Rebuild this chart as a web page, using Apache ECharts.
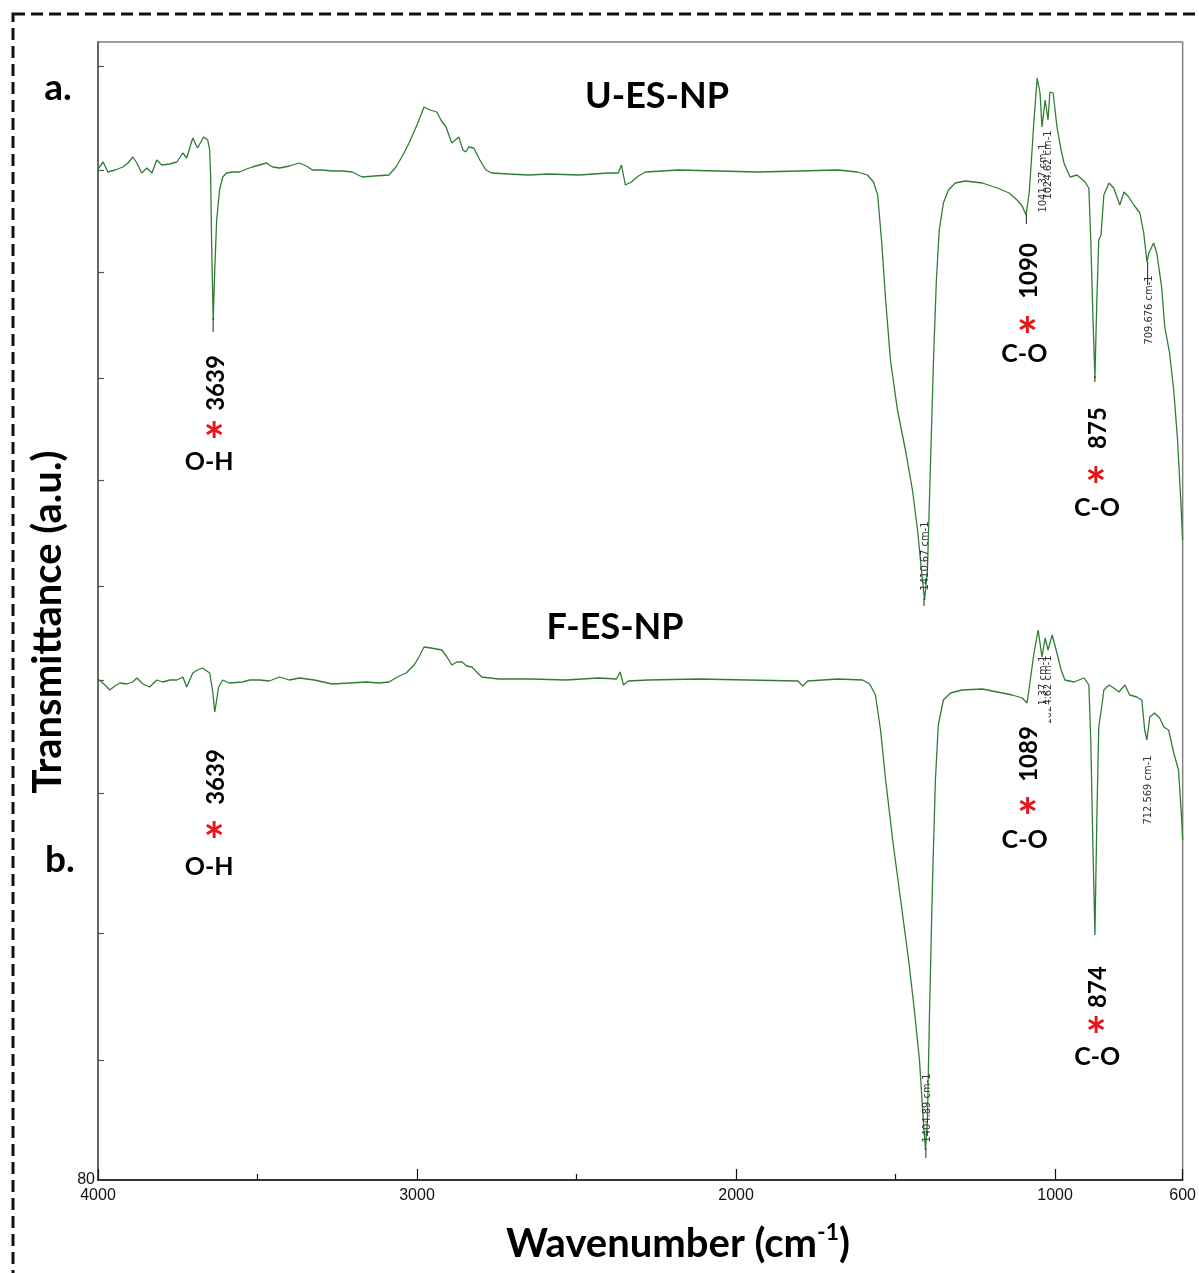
<!DOCTYPE html>
<html><head><meta charset="utf-8">
<script src="https://cdn.jsdelivr.net/npm/echarts@6/dist/echarts.min.js"></script>
<style>html,body{margin:0;padding:0;background:#fff;overflow:hidden}#c{width:1199px;height:1273px}</style>
</head><body><div id="c"></div>
<script>
// ---- Data ----
const wnA = [4000,3984,3969,3947,3922,3906,3891,3878,3863,3847,3831,3816,3800,3775,3753,3734,3722,3703,3688,3669,3656,3650,3647,3644,3639,3634,3628,3619,3609,3597,3578,3556,3534,3516,3494,3472,3453,3431,3400,3369,3347,3328,3297,3266,3234,3203,3172,3134,3088,3066,3044,3025,3000,2978,2959,2938,2925,2909,2891,2869,2856,2847,2838,2822,2803,2784,2766,2713,2650,2588,2494,2400,2369,2359,2347,2328,2306,2284,2181,2056,1931,1806,1681,1619,1588,1569,1556,1544,1531,1516,1494,1469,1447,1431,1419,1409,1400,1391,1381,1372,1363,1350,1334,1313,1281,1228,1181,1144,1119,1103,1091,1081,1072,1066,1056,1047,1041,1031,1022,1016,1006,994,981,972,953,931,906,894,888,881,875,869,863,856,847,831,816,806,797,784,769,753,734,722,712,706,691,681,666,656,641,628,616,606,600];
const tA = [101.1,101.8,100.8,101.0,101.3,101.7,102.3,101.7,100.7,101.2,100.7,102.0,101.5,101.6,101.8,102.7,102.2,104.2,103.2,104.3,104.0,103.0,100.5,94.0,86.0,91.0,96.0,99.0,100.3,100.7,100.8,100.8,101.1,101.3,101.5,101.7,101.3,101.2,101.4,101.7,101.4,101.0,101.0,100.9,100.9,100.8,100.3,100.4,100.5,101.3,102.5,103.7,105.5,107.3,107.0,106.8,106.0,105.3,103.7,104.3,103.0,102.8,103.3,103.2,102.0,101.0,100.7,100.6,100.5,100.6,100.5,100.7,100.7,101.5,99.5,99.8,100.4,100.8,101.0,100.9,100.8,100.9,101.0,100.8,100.5,99.8,98.5,94.0,88.0,82.0,77.0,73.0,69.0,65.0,61.0,58.0,61.0,71.0,82.0,90.0,95.0,97.7,99.0,99.7,99.9,99.7,99.2,98.7,98.0,97.4,96.5,98.7,103.0,106.0,110.2,108.7,105.3,108.0,106.0,108.8,108.7,105.3,103.0,101.7,100.3,100.5,99.8,99.2,94.0,86.0,80.2,88.0,94.0,94.5,98.5,99.7,99.2,98.3,97.5,98.8,98.3,97.5,96.7,94.7,91.8,92.7,93.7,92.7,89.3,85.3,82.7,79.0,74.0,68.0,64.0];

const wnB = [4000,3994,3978,3963,3947,3931,3909,3891,3878,3859,3838,3816,3797,3775,3753,3734,3722,3703,3688,3672,3650,3641,3634,3628,3622,3609,3588,3547,3525,3494,3463,3431,3400,3369,3322,3266,3213,3159,3119,3088,3056,3034,3009,2994,2978,2956,2922,2906,2891,2875,2859,2844,2828,2813,2797,2744,2641,2534,2431,2375,2363,2353,2338,2275,2119,1963,1806,1791,1775,1681,1603,1581,1563,1547,1531,1509,1484,1459,1441,1425,1413,1406,1400,1394,1384,1375,1366,1350,1328,1291,1228,1181,1134,1103,1088,1081,1066,1053,1041,1031,1022,1009,994,981,969,941,909,894,888,881,875,869,863,853,847,831,816,800,781,766,744,728,719,712,703,688,672,659,644,628,613,603,600];
const tB = [50.1,50.1,49.5,49.0,49.4,49.7,49.6,49.8,50.2,49.6,49.3,50.0,49.8,50.0,50.0,50.3,49.3,50.7,51.0,51.2,50.7,49.0,46.8,48.0,49.3,50.0,49.7,49.8,50.0,50.0,49.9,50.3,50.0,50.2,50.0,49.6,49.7,49.8,49.7,49.8,50.4,50.7,51.5,52.3,53.3,53.2,53.0,52.3,51.5,51.8,51.8,51.4,51.3,50.8,50.3,50.1,50.1,50.0,50.2,50.1,50.8,49.5,49.9,50.0,50.1,50.0,49.9,49.4,49.9,50.1,50.0,49.6,48.5,45.0,40.0,34.0,28.0,22.0,17.0,12.0,6.0,3.0,6.0,16.0,30.0,40.0,45.5,48.0,48.7,49.0,49.1,48.8,48.5,48.2,47.7,49.2,52.7,55.0,52.3,54.2,53.0,54.5,52.7,51.0,50.0,49.8,50.2,49.5,44.0,33.0,24.5,36.0,45.3,47.5,49.0,49.5,49.2,48.8,49.5,48.5,48.3,48.0,45.0,44.0,46.3,46.7,46.2,45.3,45.0,42.7,41.0,36.0,34.0];

const xTickLabels = [4000, 3000, 2000, 1000, 600];
const xMinorTicks = [3500, 2500, 1500];
const yTicks = [111.4, 101, 90.8, 80.2, 70, 59.4, 50, 38.7, 24.7, 12];

const sampleNames = ['U-ES-NP', 'F-ES-NP'];
const panelLetters = ['a.', 'b.'];
// big peak annotations: wavenumber, number text, group label
const bigPeaks = [
  {wn: 3639, num: '3639', grp: 'O-H', yNum: 383, yStar: 432, yGrp: 462, gdx: -4},
  {wn: 1090, num: '1090', grp: 'C-O', yNum: 271, yStar: 327, yGrp: 354, gdx: -2},
  {wn: 875,  num: '875',  grp: 'C-O', yNum: 428, yStar: 477, yGrp: 508, gdx: 2},
  {wn: 3639, num: '3639', grp: 'O-H', yNum: 777, yStar: 832, yGrp: 867, gdx: -4},
  {wn: 1089, num: '1089', grp: 'C-O', yNum: 754, yStar: 808, yGrp: 840, gdx: -2, box: true},
  {wn: 874,  num: '874',  grp: 'C-O', yNum: 987, yStar: 1027, yGrp: 1057, gdx: 2}
];
// small instrument peak labels
const smallPeaks = [
  {wn: 1410.67, text: '1410.67 cm-1', y: 556},
  {wn: 1041.37, text: '1041.37 cm-1', y: 178},
  {wn: 1024.62, text: '1024.62 cm-1', y: 165},
  {wn: 709.676, text: '709.676 cm-1', y: 310},
  {wn: 1041.37, text: '1041.37 cm-1', y: 690},
  {wn: 1024.62, text: '1024.62 cm-1', y: 690},
  {wn: 1404.89, text: '1404.89 cm-1', y: 1108},
  {wn: 712.569, text: '712.569 cm-1', y: 790}
];

const chart = echarts.init(document.getElementById('c'), null, {renderer: 'canvas', width: 1199, height: 1273});
const lineColor = '#2f7d34';
const tickFont = '"Liberation Sans", Arial, sans-serif';
const option = {
  animation: false,
  backgroundColor: '#ffffff',
  grid: {left: 98, right: 8, top: 42, bottom: 93, show: true, borderColor: '#808080', borderWidth: 1.5, backgroundColor: 'transparent'},
  xAxis: [{
    type: 'value', min: 600, max: 4000, inverse: true, position: 'bottom',
    axisLine: {show: true, onZero: false, lineStyle: {color: '#111', width: 1.5}},
    axisTick: {show: true, inside: true, length: 11, customValues: xTickLabels, lineStyle: {color: '#111', width: 1.2}},
    axisLabel: {customValues: xTickLabels, formatter: v => String(v), margin: 8, fontFamily: tickFont, fontSize: 16, color: '#111'},
    splitLine: {show: false}
  }, {
    type: 'value', min: 600, max: 4000, inverse: true, position: 'bottom', offset: 0,
    axisLine: {show: false, onZero: false},
    axisTick: {show: true, inside: true, length: 6, customValues: xMinorTicks, lineStyle: {color: '#111', width: 1.2}},
    axisLabel: {show: false},
    splitLine: {show: false}
  }],
  yAxis: {
    type: 'value', min: 0, max: 113.8,
    axisLine: {show: true, lineStyle: {color: '#666', width: 2}},
    axisTick: {show: true, inside: true, length: 6, customValues: yTicks, lineStyle: {color: '#555', width: 1.2}},
    axisLabel: {customValues: [0], formatter: () => '80', margin: 3, fontFamily: tickFont, fontSize: 16, color: '#111'},
    splitLine: {show: false}
  },
  series: [
    {name: sampleNames[0], type: 'line', xAxisIndex: 0, data: wnA.map((w, i) => [w, tA[i]]), showSymbol: false, silent: true, lineStyle: {color: lineColor, width: 1.3}, z: 3},
    {name: sampleNames[1], type: 'line', xAxisIndex: 0, data: wnB.map((w, i) => [w, tB[i]]), showSymbol: false, silent: true, lineStyle: {color: lineColor, width: 1.3}, z: 3}
  ]
};
chart.setOption(option);

const px = wn => chart.convertToPixel({xAxisIndex: 0}, wn);
const boldFont = 'Lato, "Open Sans", sans-serif';
function txt(x, y, text, size, opt) {
  opt = opt || {};
  return {
    type: 'text', x: x, y: y, rotation: opt.rot || 0, z: opt.z || 100, silent: true,
    style: {text: text, fill: opt.color || '#000', fontSize: size, fontWeight: opt.weight || 'bold',
      fontFamily: opt.family || boldFont, align: 'center', verticalAlign: 'middle'}
  };
}
const g = [];
// dashed frame
g.push({type: 'rect', silent: true, z: 50, shape: {x: 13, y: 14, width: 1215, height: 1300},
  style: {fill: null, stroke: '#111', lineWidth: 3, lineDash: [12, 6]}});
// titles
g.push(txt(657, 96, sampleNames[0], 36));
g.push(txt(615, 627, sampleNames[1], 36));
g.push(txt(58, 88, panelLetters[0], 37));
g.push(txt(60, 860, panelLetters[1], 37));
g.push(txt(48, 622, 'Transmittance (a.u.)', 40, {rot: Math.PI / 2}));
g.push({type: 'text', x: 678, y: 1244, z: 100, silent: true,
  style: {text: '{a|Wavenumber (cm}{s|-1}{a|)}', align: 'center', verticalAlign: 'middle',
    rich: {a: {fontSize: 40, fontWeight: 'bold', fontFamily: boldFont, fill: '#000', lineHeight: 46},
           s: {fontSize: 23, fontWeight: 'bold', fontFamily: boldFont, fill: '#000', verticalAlign: 'top', lineHeight: 46}}}});
// small instrument labels
smallPeaks.forEach(p => {
  g.push(txt(px(p.wn) + 1, p.y, p.text, 11, {rot: Math.PI / 2, weight: 'normal', color: '#333', family: '"DejaVu Sans Condensed", sans-serif', z: 60}));
});
// leader lines under labelled dips
[[3639, 318, 332], [1090, 214, 224], [709.676, 262, 285], [1410.67, 598, 606], [1404.89, 1148, 1158], [875, 376, 382]].forEach(l => {
  const x = px(l[0]);
  g.push({type: 'line', silent: true, z: 60, shape: {x1: x, y1: l[1], x2: x, y2: l[2]}, style: {stroke: '#222', lineWidth: 1}});
});
// big annotations
bigPeaks.forEach(p => {
  const x = px(p.wn);
  if (p.box) {
    g.push({type: 'rect', silent: true, z: 90, shape: {x: x - 26, y: 704, width: 48, height: 90}, style: {fill: '#fff'}});
  }
  g.push(txt(x + 3, p.yNum, p.num, 24, {rot: Math.PI / 2}));
  g.push(txt(x + 1, p.yStar + 11, '*', 50, {color: '#e8141a'}));
  g.push(txt(x + p.gdx, p.yGrp, p.grp, 25));
});
chart.setOption({graphic: g});
</script>
</body></html>
